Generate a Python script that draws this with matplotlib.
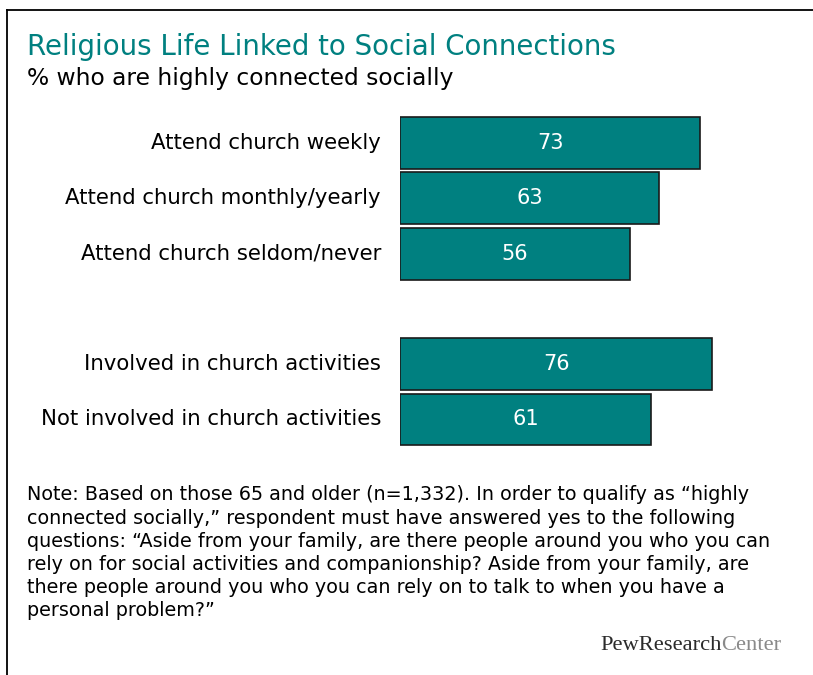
import matplotlib
matplotlib.use("Agg")
import matplotlib.pyplot as plt
from matplotlib.lines import Line2D

# -----------------------
# DATA
# -----------------------
categories = [
    "Attend church weekly",
    "Attend church monthly/yearly",
    "Attend church seldom/never",
    "Involved in church activities",
    "Not involved in church activities",
]
values = [73, 63, 56, 76, 61]
positions = [0, 1, 2, 4, 5]

title = "Religious Life Linked to Social Connections"
subtitle = "% who are highly connected socially"
note_lines = [
    "Note: Based on those 65 and older (n=1,332). In order to qualify as \u201chighly",
    "connected socially,\u201d respondent must have answered yes to the following",
    "questions: \u201cAside from your family, are there people around you who you can",
    "rely on for social activities and companionship? Aside from your family, are",
    "there people around you who you can rely on to talk to when you have a",
    "personal problem?\u201d",
]

TEAL = "#008080"
W, H = 813, 675

plt.rcParams["font.family"] = ["DejaVu Sans"]

fig = plt.figure(figsize=(W / 100, H / 100), dpi=100)

def fx(px):
    return px / W

def fy(py):
    return 1 - py / H

# frame lines (left and top)
fig.add_artist(Line2D([fx(7), fx(7)], [fy(10), fy(675)], color="black", lw=1.3))
fig.add_artist(Line2D([fx(7), fx(813)], [fy(10), fy(10)], color="black", lw=1.3))

# -----------------------
# BARS
# -----------------------
top_px, bot_px = 115.35, 447.15
ax = fig.add_axes([fx(400), fy(bot_px), 411 / W, (bot_px - top_px) / H])
ax.barh(positions, values, height=0.94, color=TEAL, edgecolor="#1a1a1a", linewidth=1.2)
ax.set_xlim(0, 100)
ax.set_ylim(5.5, -0.5)
ax.axis("off")

for p, v, c in zip(positions, values, categories):
    ax.text(v / 2, p, str(v), ha="center", va="center", color="white", fontsize=15)
    ax.text(-4.6, p, c, ha="right", va="center", color="black", fontsize=15.3)

# -----------------------
# TEXT
# -----------------------
fig.text(fx(27), fy(47), title, color=TEAL, fontsize=19.9, va="center")
fig.text(fx(27), fy(79), subtitle, color="black", fontsize=16.8, va="center")

for i, line in enumerate(note_lines):
    fig.text(fx(27), fy(495 + i * 23.2), line, color="black", fontsize=13.8, va="center")

# logo: dark "PewResearch" followed by grey "Center"
logo = fig.text(fx(600), fy(645), "PewResearch", family="Liberation Serif",
                color="#2b2b2b", fontsize=16.2, va="center")
plt.annotate("Center", xy=(1, 0), xycoords=logo, va="bottom", ha="left",
             family="Liberation Serif", color="#8a8a8a", fontsize=16.2,
             annotation_clip=False)

fig.savefig("out.png", dpi=100)
